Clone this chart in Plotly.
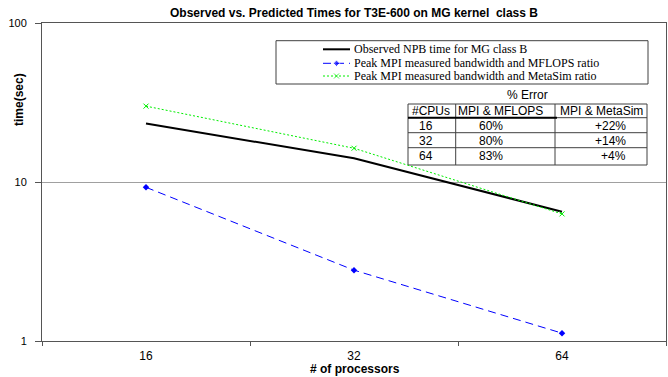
import plotly.graph_objects as go

# ---- data ----
cpus = ["16", "32", "64"]
observed = [23.3, 14.1, 6.5]
mpi_mflops = [9.26, 2.79, 1.12]
mpi_metasim = [30.0, 16.3, 6.3]
series_names = [
    "Observed NPB time for MG class B",
    "Peak MPI measured bandwidth and MFLOPS ratio",
    "Peak MPI measured bandwidth and MetaSim ratio",
]
y_ticks = [1, 10, 100]
table_header = ["#CPUs", "MPI & MFLOPS", "MPI & MetaSim"]
err_cpus = ["16", "32", "64"]
err_mflops = ["60%", "80%", "83%"]
err_metasim = ["+22%", "+14%", "+4%"]

W, H = 668, 377
L, R, T, B = 42, 2, 23, 36
PX0, PX1 = L, W - R
PY0, PY1 = H - B, T  # bottom, top pixel rows


def pxx(x):
    return (x - PX0) / (PX1 - PX0)


def pxy(y):
    return (PY0 - y) / (PY0 - PY1)


FONT = "Arial, Liberation Sans, sans-serif"
SERIF = "Times New Roman, Liberation Serif, serif"

BLUE = "#0000ff"
GREEN = "#00ee00"
BLACK = "#000000"

styles = [
    dict(line=dict(color=BLACK, width=2), mode="lines", marker=dict(size=1)),
    dict(line=dict(color=BLUE, width=1, dash="8px,5px"), mode="lines+markers",
         marker=dict(symbol="diamond", size=5, color=BLUE)),
    dict(line=dict(color=GREEN, width=1, dash="2px,2px"), mode="lines+markers",
         marker=dict(symbol="x-thin", size=5, line=dict(color=GREEN, width=1), color=GREEN)),
]

fig = go.Figure()
for vals, st, nm in zip([observed, mpi_mflops, mpi_metasim], styles, series_names):
    fig.add_trace(go.Scatter(x=cpus, y=vals, name=nm, showlegend=False,
                             cliponaxis=False, **st))

# ---- legend drawn in an overlay pixel-unit axis ----
leg_rows = [49.3, 63.3, 76.0]
for st, nm, yy in zip(styles, series_names, leg_rows):
    st2 = dict(st)
    mk = dict(st["marker"])
    mk["size"] = [0, mk.get("size", 1) if st["mode"] != "lines" else 0, 0]
    st2["marker"] = mk
    fig.add_trace(go.Scatter(x=[323, 336.5, 350], y=[yy, yy, yy], xaxis="x2", yaxis="y2",
                             showlegend=False, hoverinfo="skip", **st2))

shapes = []
annotations = []

# legend box
shapes.append(dict(type="rect", xref="x2", yref="y2", x0=276, x1=648, y0=40.7, y1=84,
                   line=dict(color="#404040", width=1), fillcolor="white", layer="below"))
for nm, yy in zip(series_names, leg_rows):
    annotations.append(dict(xref="x2", yref="y2", x=352, y=yy, text=nm, showarrow=False,
                            xanchor="left", yanchor="middle",
                            font=dict(family=SERIF, size=12, color="black")))

# table
tx0, tx1 = 408, 647
ty0, ty1 = 104, 165
cx = [455.7, 555]
ry = [117.7, 132.7, 147.7]
shapes.append(dict(type="rect", xref="x2", yref="y2", x0=tx0, x1=tx1, y0=ty0, y1=ty1,
                   line=dict(color="#404040", width=1), fillcolor="white", layer="below"))
for c in cx:
    shapes.append(dict(type="line", xref="x2", yref="y2", x0=c, x1=c, y0=ty0, y1=ty1,
                       line=dict(color="#404040", width=1)))
for r in ry:
    shapes.append(dict(type="line", xref="x2", yref="y2", x0=tx0, x1=tx1, y0=r, y1=r,
                       line=dict(color="#404040", width=1)))
shapes.append(dict(type="line", xref="x2", yref="y2", x0=tx0, x1=557, y0=ry[0], y1=ry[0],
                   line=dict(color="black", width=2)))

tfont = dict(family=FONT, size=12, color="black")
annotations.append(dict(xref="x2", yref="y2", x=527, y=95, text="% Error", showarrow=False,
                        xanchor="center", yanchor="middle", font=tfont))
for txt, xx in zip(table_header, [410, 456, 558]):
    annotations.append(dict(xref="x2", yref="y2", x=xx, y=110.8, text=txt, showarrow=False,
                            xanchor="left", yanchor="middle", font=tfont))
row_y = [126.3, 141.3, 156.3]
for c, m1, m2, yy in zip(err_cpus, err_mflops, err_metasim, row_y):
    annotations.append(dict(xref="x2", yref="y2", x=417, y=yy, text=c, showarrow=False,
                            xanchor="left", yanchor="middle", font=tfont))
    annotations.append(dict(xref="x2", yref="y2", x=477, y=yy, text=m1, showarrow=False,
                            xanchor="left", yanchor="middle", font=tfont))
    annotations.append(dict(xref="x2", yref="y2", x=628, y=yy, text=m2, showarrow=False,
                            xanchor="right", yanchor="middle", font=tfont))

# axis titles
annotations.append(dict(xref="paper", yref="paper", x=pxx(355), y=pxy(369.3),
                        text="<b># of processors</b>",
                        showarrow=False, xanchor="center", yanchor="middle",
                        font=dict(family=FONT, size=12, color="black")))
annotations.append(dict(xref="paper", yref="paper", x=pxx(19), y=pxy(100),
                        text="<b>time(sec)</b>", textangle=-90,
                        showarrow=False, xanchor="center", yanchor="middle",
                        font=dict(family=FONT, size=12, color="black")))

fig.update_layout(
    width=W, height=H,
    margin=dict(l=L, r=R, t=T, b=B, pad=0),
    paper_bgcolor="white", plot_bgcolor="white",
    title=dict(text="<b>Observed vs. Predicted Times for T3E-600 on MG kernel&nbsp; class B</b>",
               x=354 / W, xanchor="center", y=1 - 12.5 / H, yanchor="middle",
               font=dict(family=FONT, size=12, color="black")),
    xaxis=dict(type="category", tickson="boundaries", ticks="outside", ticklen=4,
               tickcolor="#555", showline=True, linecolor="#555", linewidth=1, mirror=True,
               showgrid=False, zeroline=False, tickfont=dict(family=FONT, size=12, color="black"),
               range=[-0.5, 2.5], ticklabelstandoff=4),
    yaxis=dict(type="log", range=[0, 2], tickvals=y_ticks, ticktext=[str(v) for v in y_ticks],
               ticks="outside", ticklen=6, tickcolor="#555", showline=True, linecolor="#555",
               linewidth=1, mirror=True, showgrid=True, gridcolor="#a0a0a0", gridwidth=1,
               zeroline=False, tickfont=dict(family=FONT, size=11, color="black"),
               ticklabelstandoff=6),
    xaxis2=dict(overlaying="x", range=[PX0, PX1], visible=False, fixedrange=True),
    yaxis2=dict(overlaying="y", range=[PY0, PY1], visible=False, fixedrange=True),
    shapes=shapes,
    annotations=annotations,
    showlegend=False,
)

fig.write_html("out.html", config={"displayModeBar": False},
               post_script="document.body.style.margin='0px';document.body.style.padding='0px';")
